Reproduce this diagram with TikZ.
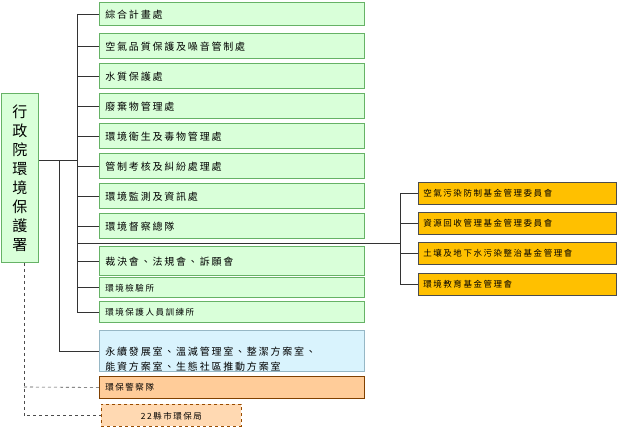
\documentclass[tikz,border=0pt]{standalone}
\usepackage{fontspec}
\setmainfont[LetterSpace=18]{Noto Sans CJK TC}
\begin{document}
\begin{tikzpicture}[x=1pt, y=-1pt]
	\tikzstyle{deptStyle} = [draw = green!50!black!60, line width = 0.8pt, fill = green!15, anchor = north west, inner sep = 0pt, font = \fontsize{10}{12}\selectfont, align = left, text depth = 0pt]
	\tikzstyle{fundStyle} = [draw = black!70, line width = 0.8pt, fill = {rgb,255:red,255;green,192;blue,0}, anchor = north west, minimum width = 198pt, minimum height = 22pt, inner sep = 0pt, text width = 188pt, align = left, font = \fontsize{8.5}{10}\selectfont]
	\tikzstyle{linkStyle} = [line width = 0.7pt, black!80]
	\useasboundingbox (0,0) rectangle (622,428);
	\node[draw = green!50!black!60, line width = 0.8pt, fill = green!15, minimum width = 37pt, minimum height = 169pt, anchor = north west, align = center, font = \fontsize{15}{19}\selectfont] (epa) at (1,93) {行\\政\\院\\環\\境\\保\\護\\署};
	\node[deptStyle, minimum width = 265pt, minimum height = 23pt, text width = 253pt] (d1) at (99,2) {綜合計畫處};
	\node[deptStyle, minimum width = 265pt, minimum height = 25pt, text width = 253pt] (d2) at (99,33) {空氣品質保護及噪音管制處};
	\node[deptStyle, minimum width = 265pt, minimum height = 25pt, text width = 253pt] (d3) at (99,63) {水質保護處};
	\node[deptStyle, minimum width = 265pt, minimum height = 25pt, text width = 253pt] (d4) at (99,93) {廢棄物管理處};
	\node[deptStyle, minimum width = 265pt, minimum height = 25pt, text width = 253pt] (d5) at (99,123) {環境衛生及毒物管理處};
	\node[deptStyle, minimum width = 265pt, minimum height = 25pt, text width = 253pt] (d6) at (99,153) {管制考核及糾紛處理處};
	\node[deptStyle, minimum width = 265pt, minimum height = 25pt, text width = 253pt] (d7) at (99,183) {環境監測及資訊處};
	\node[deptStyle, minimum width = 265pt, minimum height = 25pt, text width = 253pt] (d8) at (99,213) {環境督察總隊};
	\node[deptStyle, minimum width = 265pt, minimum height = 29pt, text width = 253pt] (d9) at (99,246) {裁決會、法規會、訴願會};
	\node[deptStyle, minimum width = 265pt, minimum height = 20pt, text width = 253pt, font = \fontsize{8.5}{10}\selectfont] (d10) at (99,277) {環境檢驗所};
	\node[deptStyle, minimum width = 265pt, minimum height = 21pt, text width = 253pt, font = \fontsize{8.5}{10}\selectfont] (d11) at (99,301) {環境保護人員訓練所};
	\node[deptStyle, fill = cyan!15, draw = cyan!50!black!50, minimum width = 265pt, minimum height = 41pt, text width = 253pt, font = \fontsize{10}{15}\selectfont] (office) at (99,330) {永續發展室、溫減管理室、整潔方案室、\\能資方案室、生態社區推動方案室};
	\node[deptStyle, fill = orange!40, draw = orange!50!black, minimum width = 265pt, minimum height = 22pt, text width = 253pt, font = \fontsize{8.5}{10}\selectfont] (police) at (99,376) {環保警察隊};
	\node[deptStyle, fill = orange!30, draw = orange!60!black, dashed, minimum width = 140pt, minimum height = 22pt, align = center, text width = 140pt, font = \fontsize{8.5}{10}\selectfont] (county) at (101,404) {22縣市環保局};
	\node[fundStyle] (f1) at (418,182) {空氣污染防制基金管理委員會};
	\node[fundStyle] (f2) at (418,212) {資源回收管理基金管理委員會};
	\node[fundStyle] (f3) at (418,242) {土壤及地下水污染整治基金管理會};
	\node[fundStyle] (f4) at (418,273) {環境教育基金管理會};
	% buses
	\coordinate (busTop) at (77,14);
	\coordinate (busBot) at (77,312);
	\coordinate (fundBus) at (400,243);
	\draw[linkStyle] (busTop) -- (busBot);
	\draw[linkStyle] (epa.east |- 0,160) -- (77,160);
	\draw[linkStyle] (59,160) |- (office.west);
	\foreach \d in {d1,d2,d3,d4,d5,d6,d7,d8,d9,d10,d11}
		\draw[linkStyle] (\d.west) -- (\d.west -| busTop);
	\draw[linkStyle] (77,243) -- (fundBus);
	\draw[linkStyle] (400,193) -- (400,284);
	\foreach \f in {f1,f2,f3,f4}
		\draw[linkStyle] (\f.west) -- (\f.west -| fundBus);
	\draw[linkStyle, black!70, dashed, line width = 0.6pt] (epa.south -| 24,0) |- (county.west);
	\draw[linkStyle, black!70, dashed, line width = 0.6pt] (24,387) -- (police.west);
\end{tikzpicture}
\end{document}
